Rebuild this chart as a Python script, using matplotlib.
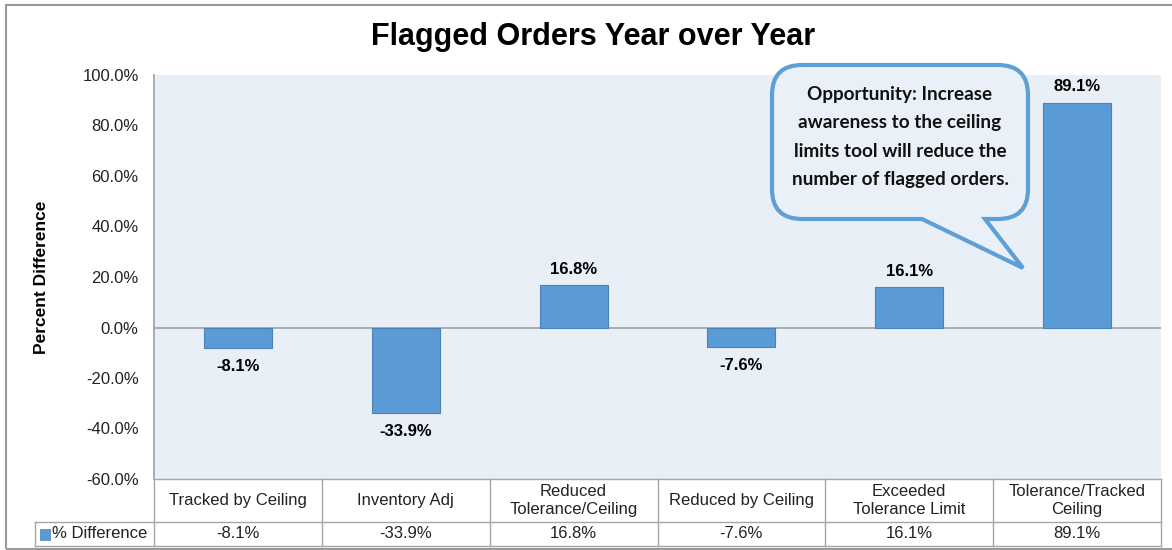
import matplotlib.pyplot as plt
import numpy as np
from matplotlib.path import Path
from matplotlib.patches import PathPatch, Rectangle
from matplotlib.transforms import blended_transform_factory

# data
categories = ['Tracked by Ceiling', 'Inventory Adj', 'Reduced\nTolerance/Ceiling',
              'Reduced by Ceiling', 'Exceeded\nTolerance Limit', 'Tolerance/Tracked\nCeiling']
values = [-8.1, -33.9, 16.8, -7.6, 16.1, 89.1]
series_name = '% Difference'
yticks = [-60, -40, -20, 0, 20, 40, 60, 80, 100]
note = 'Opportunity: Increase\nawareness to the ceiling\nlimits tool will reduce the\nnumber of flagged orders.'

W, H = 1172, 550
bar_c = '#5B9BD5'
edge_c = '#4A82B8'
bg_c = '#E9EFF7'
line_c = '#A6A6A6'

plt.rcParams['font.family'] = ['Liberation Sans', 'DejaVu Sans']

fig = plt.figure(figsize=(W / 100, H / 100), dpi=100)


def fx(px):
    return px / W


def fy(py):
    return 1 - py / H


# outer frame
fig.patches.append(Rectangle((fx(6), fy(549)), fx(1200) - fx(6), fy(5) - fy(549),
                             transform=fig.transFigure, fill=False, ec='#9A9A9A', lw=1.5))

ax = fig.add_axes([fx(154), fy(479), fx(1161) - fx(154), fy(75) - fy(479)])
ax.set_facecolor(bg_c)
x = np.arange(len(categories))
ax.bar(x, values, width=0.405, color=bar_c, edgecolor=edge_c, linewidth=0.8, zorder=3)
ax.axhline(0, color=line_c, lw=1.3, zorder=2)
ax.set_xlim(-0.5, len(categories) - 0.5)
ax.set_ylim(-60, 100)
ax.set_yticks(yticks)
ax.set_yticklabels(['%.1f%%' % t for t in yticks], fontsize=12, color='#222222')
ax.tick_params(axis='y', length=0, pad=11)
ax.set_xticks([])
for s in ['top', 'right', 'bottom']:
    ax.spines[s].set_visible(False)
ax.spines['left'].set_color(line_c)
ax.spines['left'].set_linewidth(1.3)
ax.set_ylabel('Percent Difference', fontsize=12.5, fontweight='bold', labelpad=24)

for xi, v in zip(x, values):
    if v >= 0:
        ax.annotate('%.1f%%' % v, (xi, v), xytext=(0, 6), textcoords='offset points',
                    ha='center', va='bottom', fontsize=12, fontweight='bold', zorder=4)
    else:
        ax.annotate('%.1f%%' % v, (xi, v), xytext=(0, -8), textcoords='offset points',
                    ha='center', va='top', fontsize=12, fontweight='bold', zorder=4)

fig.text(fx(593), fy(37), 'Flagged Orders Year over Year', ha='center', va='center',
         fontsize=22, fontweight='bold')

# data table under the axis
tr = blended_transform_factory(ax.transData, fig.transFigure)
row1_top, row2_top, row2_bot = 479, 522, 546
edges = np.arange(len(categories) + 1) - 0.5
for e in edges:
    ax.plot([e, e], [fy(row1_top), fy(row2_bot)], transform=tr, color=line_c, lw=1,
            clip_on=False)
ax.plot([edges[0], edges[-1]], [fy(row1_top), fy(row1_top)], transform=tr, color=line_c,
        lw=1, clip_on=False)
ax.plot([edges[0], edges[-1]], [fy(row2_bot), fy(row2_bot)], transform=tr, color=line_c,
        lw=1, clip_on=False)
# legend cell
fig.lines.append(plt.Line2D([fx(35), fx(1161)], [fy(row2_top), fy(row2_top)],
                            transform=fig.transFigure, color=line_c, lw=1))
fig.lines.append(plt.Line2D([fx(35), fx(154)], [fy(row2_bot), fy(row2_bot)],
                            transform=fig.transFigure, color=line_c, lw=1))
fig.lines.append(plt.Line2D([fx(35), fx(35)], [fy(row2_top), fy(row2_bot)],
                            transform=fig.transFigure, color=line_c, lw=1))
fig.patches.append(Rectangle((fx(40), fy(540)), fx(10), fy(529) - fy(540),
                             transform=fig.transFigure, fc=bar_c, ec=edge_c, lw=0.5))
fig.text(fx(52), fy(534), series_name, ha='left', va='center', fontsize=12, color='#222222')

for xi, c, v in zip(x, categories, values):
    ax.text(xi, fy((row1_top + row2_top) / 2), c, transform=tr, ha='center', va='center',
            fontsize=12, color='#222222', linespacing=1.25)
    ax.text(xi, fy((row2_top + row2_bot) / 2), '%.1f%%' % v, transform=tr, ha='center',
            va='center', fontsize=12, color='#222222')

# callout bubble
L, R, T, B, r = 772, 1028, 65, 219, 30
tip = (1023, 268)
pts = [(L + r, T), (R - r, T), (R, T), (R, T + r), (R, B - r), (R, B), (R - r, B),
       (985, B), tip, (922, B), (L + r, B), (L, B), (L, B - r), (L, T + r), (L, T),
       (L + r, T), (L + r, T)]
codes = [Path.MOVETO, Path.LINETO, Path.CURVE3, Path.CURVE3, Path.LINETO, Path.CURVE3,
         Path.CURVE3, Path.LINETO, Path.LINETO, Path.LINETO, Path.LINETO, Path.CURVE3,
         Path.CURVE3, Path.LINETO, Path.CURVE3, Path.CURVE3, Path.CLOSEPOLY]
verts = [(fx(a), fy(b)) for a, b in pts]
fig.patches.append(PathPatch(Path(verts, codes), transform=fig.transFigure,
                             fc='#EAF0F8', ec='#5EA0D6', lw=3, zorder=5))
fig.text(fx(900), fy(137), note, ha='center', va='center', fontsize=13.6,
         fontweight='bold', family=['Lato', 'DejaVu Sans'], linespacing=1.8, color='#111111',
         zorder=6)

fig.savefig('out.png', dpi=100)
